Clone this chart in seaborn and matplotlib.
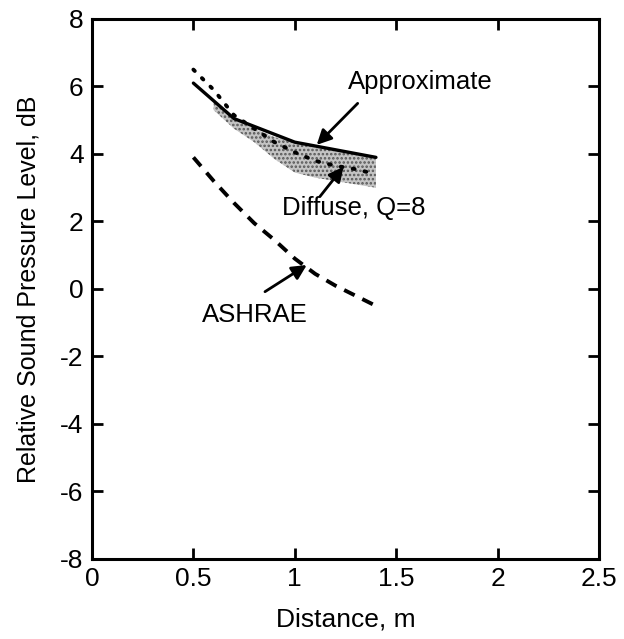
import numpy as np
import pandas as pd
import matplotlib
matplotlib.use("Agg")
import matplotlib.pyplot as plt
import seaborn as sns

# ===== Data =====
approx_x = [0.5, 0.7, 1.0, 1.4]
approx_y = [6.1, 5.05, 4.35, 3.9]

diffuse_x = [0.5, 0.6, 0.7, 0.8, 0.9, 1.0, 1.1, 1.2, 1.3, 1.4]
diffuse_y = [6.5, 5.9, 5.15, 4.75, 4.35, 4.05, 3.8, 3.65, 3.55, 3.4]

band_x = [0.6, 0.7, 0.8, 0.9, 1.0, 1.1, 1.2, 1.3, 1.4]
band_hi = [5.55, 5.05, 4.75, 4.5, 4.35, 4.2, 4.1, 4.0, 3.9]
band_lo = [5.3, 4.75, 4.35, 3.85, 3.45, 3.3, 3.2, 3.1, 3.0]

ashrae_x = [0.5, 0.6, 0.7, 0.8, 0.9, 1.0, 1.1, 1.2, 1.3, 1.4]
ashrae_y = [3.9, 3.2, 2.55, 1.95, 1.45, 0.9, 0.45, 0.1, -0.2, -0.5]

x_ticks = [0, 0.5, 1, 1.5, 2, 2.5]
x_tick_labels = ["0", "0.5", "1", "1.5", "2", "2.5"]
y_ticks = [-8, -6, -4, -2, 0, 2, 4, 6, 8]

# ===== Style =====
sns.set_style("ticks")
plt.rcParams["font.family"] = ["Liberation Sans", "DejaVu Sans"]
plt.rcParams["axes.unicode_minus"] = False
plt.rcParams["text.color"] = "black"
plt.rcParams["axes.labelcolor"] = "black"
plt.rcParams["xtick.color"] = "black"
plt.rcParams["ytick.color"] = "black"
plt.rcParams["axes.edgecolor"] = "black"
plt.rcParams["hatch.linewidth"] = 1.2

fig = plt.figure(figsize=(6.24, 6.39), dpi=100)
ax = fig.add_axes([0.1474, 0.1252, 0.8126, 0.8451])

# shaded region (stippled)
ax.fill_between(band_x, band_lo, band_hi, facecolor="#c4c4c4",
                edgecolor="#555555", hatch="....", linewidth=0, zorder=1)

approx_df = pd.DataFrame({"x": approx_x, "y": approx_y})
diffuse_df = pd.DataFrame({"x": diffuse_x, "y": diffuse_y})
ashrae_df = pd.DataFrame({"x": ashrae_x, "y": ashrae_y})

sns.lineplot(data=approx_df, x="x", y="y", ax=ax, color="black", lw=2.4, zorder=3)
sns.lineplot(data=diffuse_df, x="x", y="y", ax=ax, color="black", lw=2.8,
             linestyle=(0, (0.5, 2.6)), dash_capstyle="round", zorder=3)
sns.lineplot(data=ashrae_df, x="x", y="y", ax=ax, color="black", lw=2.8,
             linestyle=(0, (3, 2.2)), zorder=3)

# ===== Annotations =====
arrow = dict(arrowstyle="-|>", color="black", lw=2, mutation_scale=22,
             shrinkA=0, shrinkB=0)
ax.annotate("", xy=(1.108, 4.27), xytext=(1.31, 5.5), arrowprops=arrow)
ax.text(1.26, 6.13, "Approximate", fontsize=18.5, va="center", ha="left")

ax.annotate("", xy=(1.24, 3.62), xytext=(1.124, 2.74), arrowprops=arrow)
ax.text(0.935, 2.4, "Diffuse, Q=8", fontsize=18.5, va="center", ha="left")

ax.annotate("", xy=(1.059, 0.71), xytext=(0.853, -0.08), arrowprops=arrow)
ax.text(0.54, -0.77, "ASHRAE", fontsize=18.5, va="center", ha="left")

# ===== Axes =====
ax.set_xlim(0, 2.5)
ax.set_ylim(-8, 8)
ax.set_xticks(x_ticks)
ax.set_xticklabels(x_tick_labels)
ax.set_yticks(y_ticks)
ax.tick_params(direction="in", length=8, width=2, labelsize=19,
               top=True, right=True, pad=6)
for s in ax.spines.values():
    s.set_linewidth(2.2)
    s.set_visible(True)

ax.set_xlabel("Distance, m", fontsize=19, labelpad=12)
ax.set_ylabel("Relative Sound Pressure Level, dB", fontsize=18, labelpad=14)

fig.savefig("out.png", dpi=100)
